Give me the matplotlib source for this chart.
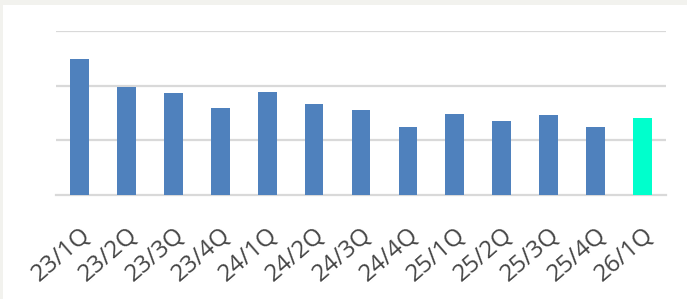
import matplotlib
matplotlib.use("Agg")
from matplotlib import pyplot as plt
from matplotlib.patches import Rectangle
import numpy as np

quarters = ["23/1Q", "23/2Q", "23/3Q", "23/4Q", "24/1Q", "24/2Q", "24/3Q",
            "24/4Q", "25/1Q", "25/2Q", "25/3Q", "25/4Q", "26/1Q"]
values = [2.49, 1.97, 1.87, 1.59, 1.88, 1.67, 1.55, 1.24, 1.49, 1.36, 1.46, 1.24, 1.40]
colors = ["#4f81bd"] * 12 + ["#00ffcc"]

plt.rcParams['font.family'] = ['Open Sans', 'DejaVu Sans']

fig = plt.figure(figsize=(6.87, 2.99), dpi=100)
fig.patch.set_facecolor("white")
# beige frame strips at top and left
fig.patches.append(Rectangle((0, 1 - 5 / 299), 1, 5 / 299, transform=fig.transFigure,
                             facecolor="#f2f2ee", edgecolor="none", zorder=0))
fig.patches.append(Rectangle((0, 0), 3 / 687, 1, transform=fig.transFigure,
                             facecolor="#f2f2ee", edgecolor="none", zorder=0))

ax = fig.add_axes([56 / 687, 1 - 195 / 299, 610 / 687, 164 / 299])
ax.set_facecolor("none")
x = np.arange(len(quarters))
ax.bar(x, values, width=0.4, color=colors, zorder=3)

ax.set_xlim(-0.5, len(quarters) - 0.5)
ax.set_ylim(0, 3)
ax.set_yticks([1, 2, 3])
ax.yaxis.grid(True, color="#d9d9d9", linewidth=1.6)
ax.set_yticklabels([])
ax.tick_params(axis="y", length=0)
ax.tick_params(axis="x", length=0, pad=20)
for s in ["top", "right", "left"]:
    ax.spines[s].set_visible(False)
ax.spines["bottom"].set_color("#d9d9d9")
ax.spines["bottom"].set_linewidth(1.6)

ax.set_xticks(x)
ax.set_xticklabels(quarters, rotation=41, ha="right", va="top",
                   rotation_mode="anchor", fontsize=17.5, color="#454545")

fig.savefig("out.png", dpi=100)
